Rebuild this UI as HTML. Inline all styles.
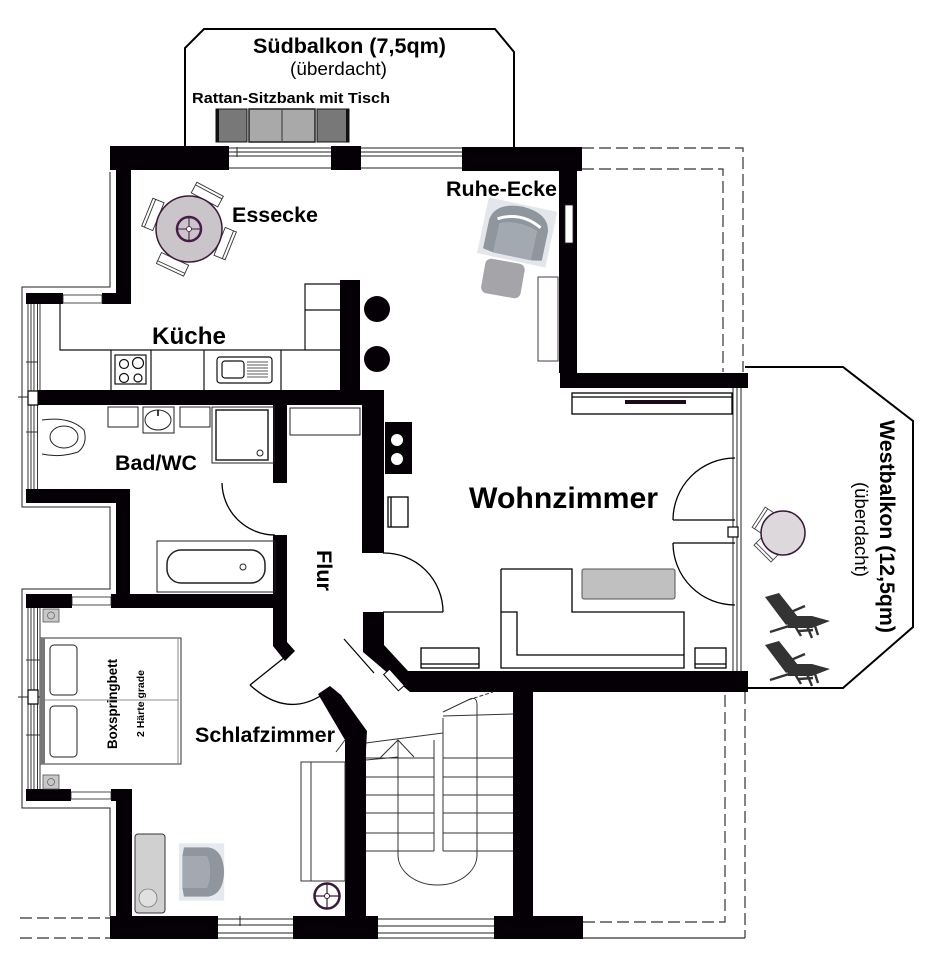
<!DOCTYPE html>
<html><head><meta charset="utf-8"><style>
html,body{margin:0;padding:0;background:#fff;}
svg{display:block;}
text{font-family:"Liberation Sans",Arial,sans-serif;fill:#000;}
.b{font-weight:bold;}
</style></head><body>
<svg width="925" height="960" viewBox="0 0 925 960" xmlns="http://www.w3.org/2000/svg">
<rect width="925" height="960" fill="#fff"/>

<!-- Balcony outlines -->
<polyline points="185,147 185,48 204,29 495,29 514,52 514,147" fill="none" stroke="#000" stroke-width="2"/>
<polyline points="745,367 843,367 913,421 913,627 843,688 745,688" fill="none" stroke="#000" stroke-width="2"/>

<!-- dashed outlines -->
<g fill="none" stroke="#333" stroke-width="1.2" stroke-dasharray="12 5">
<polyline points="582,148 743,148 743,372"/>
<polyline points="582,169 723,169 723,372"/>
<polyline points="583,922 725,922 725,692"/>
<line x1="745" y1="692" x2="745" y2="938"/>
<line x1="20" y1="918" x2="110" y2="918"/>
<line x1="20" y1="938" x2="110" y2="938"/>
</g>
<line x1="583" y1="938" x2="745" y2="938" stroke="#333" stroke-width="1.2"/>

<!-- left outer thin lines -->
<g fill="none" stroke="#222" stroke-width="1">
<polyline points="110,172 110,287 22,287 22,507 110,507 110,589 22,589 22,808 110,808 110,916"/>
</g>

<!-- left window strips -->
<g stroke="#222" stroke-width="0.9">
<line x1="28" y1="304" x2="28" y2="489"/><line x1="31" y1="304" x2="31" y2="489"/><line x1="34" y1="304" x2="34" y2="489"/><line x1="37.5" y1="304" x2="37.5" y2="489"/><line x1="40" y1="304" x2="40" y2="390"/>
<line x1="28" y1="608" x2="28" y2="789"/><line x1="31" y1="608" x2="31" y2="789"/><line x1="34" y1="608" x2="34" y2="789"/><line x1="37.5" y1="608" x2="37.5" y2="789"/><line x1="40" y1="608" x2="40" y2="789"/>
<line x1="26" y1="362" x2="38" y2="362"/><line x1="26" y1="432" x2="38" y2="432"/>
<line x1="18" y1="397" x2="40" y2="397"/><line x1="18" y1="697" x2="40" y2="697"/>
<line x1="26" y1="660" x2="40" y2="660"/><line x1="26" y1="735" x2="40" y2="735"/>
</g>
<rect x="28" y="391" width="10" height="14" fill="#fff" stroke="#000" stroke-width="1.2"/>
<rect x="28" y="690" width="10" height="14" fill="#fff" stroke="#000" stroke-width="1.2"/>

<!-- top windows -->
<g stroke="#222" stroke-width="1">
<line x1="229" y1="148" x2="331" y2="148"/><line x1="229" y1="152" x2="331" y2="152"/><line x1="229" y1="156" x2="331" y2="156"/><line x1="229" y1="168" x2="331" y2="168"/>
<line x1="361" y1="148" x2="462" y2="148"/><line x1="361" y1="152" x2="462" y2="152"/><line x1="361" y1="156" x2="462" y2="156"/><line x1="361" y1="168" x2="462" y2="168"/>
<line x1="237" y1="147" x2="237" y2="157"/>
</g>
<!-- bottom windows -->
<g stroke="#222" stroke-width="1">
<line x1="218" y1="919" x2="293" y2="919"/><line x1="218" y1="925" x2="293" y2="925"/><line x1="218" y1="933" x2="293" y2="933"/><line x1="218" y1="938" x2="293" y2="938"/>
<line x1="378" y1="919" x2="494" y2="919"/><line x1="378" y1="926" x2="494" y2="926"/><line x1="378" y1="933" x2="494" y2="933"/><line x1="378" y1="938" x2="494" y2="938"/>
<line x1="240" y1="916" x2="240" y2="926"/>
</g>
<!-- Wohnzimmer balcony window -->
<g stroke="#222" stroke-width="1">
<line x1="733" y1="388" x2="733" y2="671"/><line x1="737" y1="388" x2="737" y2="671"/><line x1="741" y1="388" x2="741" y2="671"/>
</g>

<!-- WALLS -->
<g fill="#050005">
<rect x="110" y="146" width="119" height="24"/>
<rect x="116" y="146" width="15" height="158"/>
<rect x="26" y="293" width="37" height="11"/>
<rect x="102" y="293" width="29" height="11"/>
<rect x="331" y="146" width="30" height="24"/>
<rect x="462" y="147" width="120" height="24"/>
<rect x="559" y="147" width="18" height="226"/>
<rect x="560" y="373" width="188" height="15"/>
<rect x="340" y="280" width="20" height="110"/>
<rect x="38" y="390" width="345" height="15"/>
<rect x="362" y="390" width="22" height="163"/>
<rect x="273" y="405" width="14" height="78"/>
<polygon points="273,535 287,535 287,642 295,651 285,661 273,646"/>
<rect x="26" y="489" width="104" height="14"/>
<rect x="116" y="489" width="14" height="106"/>
<rect x="26" y="594" width="46" height="14"/>
<rect x="111" y="594" width="176" height="14"/>
<rect x="26" y="789" width="45" height="12"/>
<rect x="111" y="789" width="21" height="12"/>
<rect x="116" y="789" width="16" height="133"/>
<rect x="110" y="916" width="108" height="23"/>
<rect x="293" y="916" width="85" height="23"/>
<rect x="494" y="916" width="89" height="23"/>
<rect x="345" y="733" width="21" height="206"/>
<polygon points="318,694 330,686 341,695 367,731 366,750 345,750 345,740"/>
<rect x="513" y="685" width="20" height="233"/>
<polygon points="363,612 384,612 384,645 408,671 748,671 748,692 410,692 363,652"/>
<rect x="385" y="422" width="27" height="52"/>
<circle cx="377" cy="309" r="13"/>
<circle cx="377" cy="359" r="13"/>
</g>
<!-- white windows in walls -->
<g fill="#fff" stroke="#222" stroke-width="0.8">
<rect x="63" y="295" width="39" height="8"/>
<rect x="72" y="597" width="39" height="8"/>
<rect x="71" y="792" width="40" height="7"/>
<rect x="565" y="205" width="8" height="38"/>
</g>
<circle cx="397" cy="440" r="6" fill="#fff"/>
<circle cx="397" cy="459" r="6" fill="#fff"/>
<!-- diagonal door pieces -->
<rect x="383" y="676" width="22" height="8" fill="#fff" stroke="#000" stroke-width="1" transform="rotate(48 394 680)"/>
<line x1="344" y1="639" x2="374" y2="673" stroke="#000" stroke-width="1.2"/>

<!-- Südbalkon bench -->
<rect x="216" y="109" width="31" height="33" fill="#787878" stroke="#111" stroke-width="1"/>
<rect x="216" y="109" width="3" height="33" fill="#111"/>
<rect x="249" y="109" width="66" height="33" fill="#a9a9a9" stroke="#222" stroke-width="1.5"/>
<line x1="282" y1="110" x2="282" y2="141" stroke="#333" stroke-width="1"/>
<rect x="317" y="109" width="32" height="33" fill="#787878" stroke="#111" stroke-width="1"/>
<rect x="346" y="109" width="3" height="33" fill="#111"/>

<!-- Essecke table -->
<g transform="translate(189,229)" fill="#fff" stroke="#333" stroke-width="0.9">
<g transform="rotate(-62)"><rect x="33" y="-15" width="12" height="30"/><line x1="42" y1="-15" x2="42" y2="15"/></g>
<g transform="rotate(22)"><rect x="33" y="-15" width="12" height="30"/><line x1="42" y1="-15" x2="42" y2="15"/></g>
<g transform="rotate(115)"><rect x="33" y="-15" width="12" height="30"/><line x1="42" y1="-15" x2="42" y2="15"/></g>
<g transform="rotate(202)"><rect x="33" y="-15" width="12" height="30"/><line x1="42" y1="-15" x2="42" y2="15"/></g>
</g>
<circle cx="189" cy="229" r="33" fill="#c9c5c9" stroke="#3a1a3a" stroke-width="1.5"/>
<circle cx="189" cy="229" r="12" fill="none" stroke="#4a1a4a" stroke-width="2.5"/>
<line x1="177" y1="229" x2="201" y2="229" stroke="#3a1a3a" stroke-width="1"/>
<line x1="189" y1="217" x2="189" y2="241" stroke="#3a1a3a" stroke-width="1"/>
<circle cx="189" cy="229" r="2.5" fill="#fff" stroke="#3a1a3a" stroke-width="0.8"/>

<!-- Kitchen -->
<g fill="none" stroke="#111" stroke-width="1.2">
<polyline points="60,304 60,350 305,350 305,284 340,284"/>
<line x1="305" y1="310" x2="340" y2="310"/>
<line x1="305" y1="350" x2="340" y2="350"/>
<line x1="111" y1="350" x2="111" y2="390"/>
<line x1="151" y1="350" x2="151" y2="390"/>
<line x1="204" y1="350" x2="204" y2="390"/>
<line x1="281" y1="350" x2="281" y2="390"/>
<rect x="115" y="355" width="31" height="29"/>
<circle cx="124" cy="364" r="4.5"/><circle cx="138" cy="363" r="5.5"/>
<circle cx="124" cy="378" r="4.5"/><circle cx="138" cy="378" r="4"/>
<rect x="217" y="357" width="55" height="26" rx="3"/>
<rect x="222" y="361" width="22" height="17" rx="3"/>
</g>
<g stroke="#222" stroke-width="0.8">
<line x1="247" y1="362" x2="268" y2="362"/><line x1="247" y1="365" x2="268" y2="365"/><line x1="247" y1="368" x2="268" y2="368"/><line x1="247" y1="371" x2="268" y2="371"/><line x1="247" y1="374" x2="268" y2="374"/><line x1="247" y1="377" x2="268" y2="377"/>
</g>

<!-- Ruhe-Ecke -->
<g transform="translate(517,233) rotate(12)">
<rect x="-35" y="-29" width="70" height="57" fill="#e3e7eb"/>
<path d="M-30,22 L-30,-8 Q-27,-26 0,-27 Q27,-26 30,-8 L30,22 L19,24 L19,-6 Q0,-13 -19,-6 L-19,24 Z" fill="#8f969d"/>
<path d="M-19,-6 Q0,-13 19,-6 L19,24 L-19,24 Z" fill="#a2a9b0"/>
<path d="M-22,-10 Q0,-22 22,-10" fill="none" stroke="#fff" stroke-width="3"/>
</g>
<rect x="483" y="261" width="40" height="35" rx="6" fill="#a5a5a9" transform="rotate(10 503 278)"/>
<rect x="538" y="277" width="20" height="84" fill="#fff" stroke="#4a3a4a" stroke-width="1"/>

<!-- Bad -->
<g fill="none" stroke="#222" stroke-width="1">
<path d="M42,420 Q70,416 84,430 Q88,444 78,452 Q60,458 42,454"/>
<ellipse cx="64" cy="437" rx="14" ry="11"/>
<rect x="108" y="407" width="30" height="20"/>
<rect x="143" y="407" width="31" height="26"/>
<ellipse cx="158" cy="420" rx="13" ry="10"/>
<rect x="180" y="407" width="30" height="20"/>
<rect x="212" y="407" width="62" height="56"/>
<rect x="216" y="410" width="52" height="50" stroke-width="1.5"/>
<circle cx="260" cy="453" r="3"/>
<rect x="157" y="541" width="118" height="51"/>
<rect x="167" y="550" width="98" height="33" rx="14" stroke-width="1.5"/>
<circle cx="243" cy="567" r="3"/>
<rect x="290" y="408" width="70" height="27"/>
</g>
<line x1="158" y1="410" x2="158" y2="416" stroke="#000" stroke-width="1.5"/>

<!-- doors -->
<g fill="none" stroke="#000" stroke-width="1.3">
<path d="M222,483 A53,53 0 0 0 275,535"/>
<path d="M383,553 A59,59 0 0 1 443,612"/>
<line x1="383" y1="612" x2="443" y2="612"/>
<path d="M735,458 A62,62 0 0 0 673,520"/>
<line x1="673" y1="520" x2="735" y2="520"/>
<path d="M673,543 A62,62 0 0 0 735,605"/>
<line x1="673" y1="543" x2="735" y2="543"/>
<line x1="285" y1="657" x2="250" y2="685"/>
<path d="M250,685 Q286,718 322,695"/>
</g>
<rect x="728" y="527" width="10" height="10" fill="#fff" stroke="#000" stroke-width="1.2"/>

<!-- Wohnzimmer furniture -->
<g fill="none" stroke="#000" stroke-width="1.3">
<rect x="388" y="497" width="20" height="30"/>
<line x1="391" y1="497" x2="391" y2="527"/>
<rect x="572" y="393" width="160" height="21"/>
<line x1="572" y1="397" x2="732" y2="397"/>
<polyline points="501,569 572,569 572,612 684,612 684,668 501,668 501,569"/>
<polyline points="501,612 517,612 517,655 684,655"/>
<rect x="421" y="648" width="58" height="20"/>
<line x1="421" y1="664" x2="479" y2="664"/>
<rect x="695" y="648" width="31" height="20"/>
<line x1="695" y1="664" x2="726" y2="664"/>
</g>
<rect x="625" y="400" width="61" height="4" fill="#1a0a1a"/>
<rect x="582" y="569" width="93" height="30" rx="2" fill="#c0c0c0" stroke="#555" stroke-width="1"/>

<!-- Westbalkon furniture -->
<g transform="translate(783,533)" fill="#fff" stroke="#444" stroke-width="0.9">
<g transform="rotate(213)"><rect x="19" y="-12" width="10" height="24"/><line x1="26" y1="-12" x2="26" y2="12"/></g>
<g transform="rotate(135)"><rect x="19" y="-12" width="10" height="24"/><line x1="26" y1="-12" x2="26" y2="12"/></g>
</g>
<circle cx="783" cy="533" r="22" fill="#dcd8dc" stroke="#3a1a3a" stroke-width="1.5"/>
<g fill="#333">
<polygon points="765,597 779,593 798,617 786,625"/>
<polygon points="786,616 812,616 830,621 812,628 788,628"/>
</g>
<g stroke="#333" stroke-width="2.4" fill="none">
<line x1="791" y1="612" x2="805" y2="606"/>
<line x1="789" y1="626" x2="770" y2="632"/>
<line x1="795" y1="626" x2="801" y2="636"/>
<line x1="807" y1="626" x2="812" y2="638"/>
<line x1="815" y1="626" x2="818" y2="635"/>
<line x1="799" y1="631" x2="813" y2="630"/>
</g>
<g fill="#333">
<polygon points="765,645 779,641 798,665 786,673"/>
<polygon points="786,664 812,664 830,669 812,676 788,676"/>
</g>
<g stroke="#333" stroke-width="2.4" fill="none">
<line x1="791" y1="660" x2="805" y2="654"/>
<line x1="789" y1="674" x2="770" y2="680"/>
<line x1="795" y1="674" x2="801" y2="684"/>
<line x1="807" y1="674" x2="812" y2="686"/>
<line x1="815" y1="674" x2="818" y2="683"/>
<line x1="799" y1="679" x2="813" y2="678"/>
</g>

<!-- Staircase -->
<g fill="none" stroke="#333" stroke-width="1">
<line x1="366" y1="758" x2="434" y2="758"/><line x1="443" y1="758" x2="513" y2="758"/>
<line x1="366" y1="777" x2="434" y2="777"/><line x1="443" y1="777" x2="513" y2="777"/>
<line x1="366" y1="795" x2="434" y2="795"/><line x1="443" y1="795" x2="513" y2="795"/>
<line x1="366" y1="813" x2="434" y2="813"/><line x1="443" y1="813" x2="513" y2="813"/>
<line x1="366" y1="833" x2="434" y2="833"/><line x1="443" y1="833" x2="513" y2="833"/>
<line x1="366" y1="851" x2="434" y2="851"/><line x1="443" y1="851" x2="513" y2="851"/>
<line x1="434" y1="740" x2="434" y2="851"/>
<line x1="443" y1="718" x2="443" y2="851"/>
<path d="M398,740 L398,855 A39.5,30 0 0 0 477,855 L477,705 Q477,695 468,700 L443,712"/>
<line x1="366" y1="743" x2="443" y2="733"/>
<line x1="443" y1="716" x2="513" y2="714"/>
<line x1="468" y1="700" x2="493" y2="692" stroke-dasharray="4 2"/>
<polyline points="380,758 398,740 414,757"/>
<line x1="345" y1="740" x2="336" y2="752"/>
<line x1="366" y1="760" x2="398" y2="757"/>
</g>

<!-- Schlafzimmer -->
<rect x="40" y="638" width="141" height="126" fill="#fff" stroke="#333" stroke-width="1"/>
<rect x="40" y="638" width="5" height="126" fill="#777"/>
<line x1="178" y1="638" x2="178" y2="764" stroke="#888" stroke-width="1"/>
<line x1="45" y1="700" x2="178" y2="700" stroke="#666" stroke-width="0.8"/>
<rect x="50" y="645" width="27" height="50" rx="4" fill="#fff" stroke="#222" stroke-width="1"/>
<rect x="50" y="706" width="27" height="51" rx="4" fill="#fff" stroke="#222" stroke-width="1"/>
<rect x="43" y="609" width="16" height="13" fill="#c8c8c8" stroke="#555" stroke-width="0.8"/>
<circle cx="51" cy="615.5" r="3.5" fill="none" stroke="#666" stroke-width="0.8"/>
<rect x="43" y="775" width="16" height="14" fill="#c8c8c8" stroke="#555" stroke-width="0.8"/>
<circle cx="51" cy="782" r="3.5" fill="none" stroke="#666" stroke-width="0.8"/>
<rect x="301" y="762" width="44" height="119" fill="#fff" stroke="#333" stroke-width="1"/>
<line x1="311" y1="762" x2="311" y2="881" stroke="#333" stroke-width="1"/>
<circle cx="327" cy="896" r="12.5" fill="#fff" stroke="#3a1a3a" stroke-width="2.5"/>
<line x1="315" y1="896" x2="339" y2="896" stroke="#3a1a3a" stroke-width="1.2"/>
<line x1="327" y1="884" x2="327" y2="908" stroke="#3a1a3a" stroke-width="1.2"/>
<circle cx="327" cy="896" r="2.5" fill="#fff" stroke="#3a1a3a" stroke-width="1"/>
<rect x="135" y="834" width="30" height="79" rx="3" fill="#d0d0d0" stroke="#333" stroke-width="1"/>
<circle cx="148" cy="898" r="9" fill="#e0e0e0" stroke="#777" stroke-width="0.8"/>
<g transform="translate(202,872) rotate(90) scale(0.82)">
<rect x="-35" y="-27" width="70" height="55" fill="#e6eaee"/>
<path d="M-30,22 L-30,-8 Q-27,-26 0,-27 Q27,-26 30,-8 L30,22 L19,24 L19,-6 Q0,-13 -19,-6 L-19,24 Z" fill="#8f969d"/>
<path d="M-19,-6 Q0,-13 19,-6 L19,24 L-19,24 Z" fill="#a2a9b0"/>
</g>

<!-- TEXT -->
<text class="b" x="253" y="53" font-size="21.5" textLength="193" lengthAdjust="spacingAndGlyphs">Südbalkon (7,5qm)</text>
<text x="290" y="75" font-size="18.5" textLength="97" lengthAdjust="spacingAndGlyphs">(überdacht)</text>
<text class="b" x="192" y="103" font-size="15" textLength="198" lengthAdjust="spacingAndGlyphs">Rattan-Sitzbank mit Tisch</text>
<text class="b" x="232" y="222" font-size="21" textLength="86" lengthAdjust="spacingAndGlyphs">Essecke</text>
<text class="b" x="446" y="196" font-size="21" textLength="111" lengthAdjust="spacingAndGlyphs">Ruhe-Ecke</text>
<text class="b" x="152" y="344" font-size="24" textLength="74" lengthAdjust="spacingAndGlyphs">Küche</text>
<text class="b" x="115" y="470" font-size="21" textLength="82" lengthAdjust="spacingAndGlyphs">Bad/WC</text>
<text class="b" x="469" y="508" font-size="29.5" textLength="189" lengthAdjust="spacingAndGlyphs">Wohnzimmer</text>
<text class="b" x="195" y="742" font-size="21" textLength="140" lengthAdjust="spacingAndGlyphs">Schlafzimmer</text>
<text class="b" transform="translate(317,550) rotate(90)" font-size="21.5" textLength="41" lengthAdjust="spacingAndGlyphs">Flur</text>
<text class="b" transform="translate(880,420) rotate(90)" font-size="21.5" textLength="213" lengthAdjust="spacingAndGlyphs">Westbalkon (12,5qm)</text>
<text transform="translate(855,482) rotate(90)" font-size="18" textLength="95" lengthAdjust="spacingAndGlyphs">(überdacht)</text>
<text class="b" transform="translate(117,749) rotate(-90)" font-size="13.5" textLength="90" lengthAdjust="spacingAndGlyphs">Boxspringbett</text>
<text class="b" transform="translate(144,737) rotate(-90)" font-size="10.5" textLength="67" lengthAdjust="spacingAndGlyphs">2 Härte grade</text>
</svg>
</body></html>
